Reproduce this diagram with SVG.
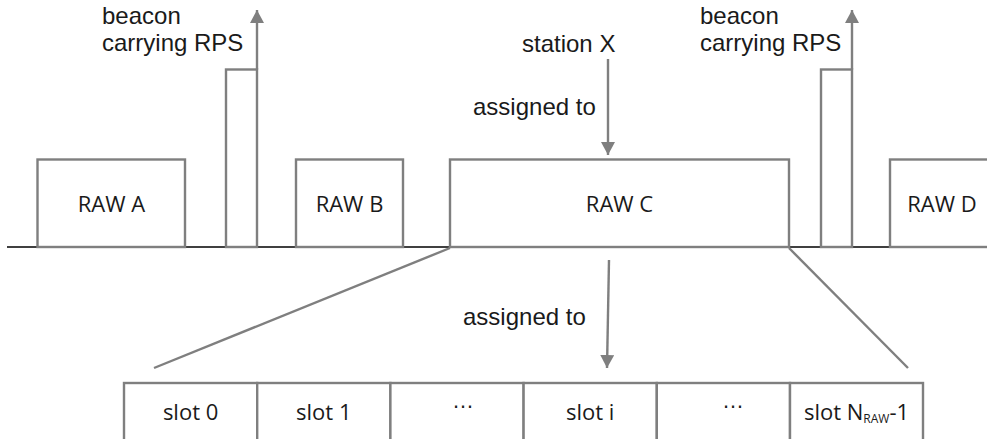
<svg xmlns="http://www.w3.org/2000/svg" width="987" height="439" viewBox="0 0 987 439">
<style>
.box{fill:#fff;stroke:#7f7f7f;stroke-width:2.4}
.conn{fill:none;stroke:#7f7f7f;stroke-width:2.4}
.lbl{font-family:"Liberation Sans",Arial,sans-serif;font-size:24px;fill:#1a1a1a}
.raw{font-family:"Open Sans","Noto Sans",sans-serif;font-size:22px;fill:#1a1a1a;text-anchor:middle}
.dots{font-family:"Liberation Sans",Arial,sans-serif;font-size:22px;fill:#1a1a1a;text-anchor:middle}
</style>
<defs>
<marker id="ah" markerUnits="userSpaceOnUse" markerWidth="14" markerHeight="14" viewBox="0 0 14 14" refX="13" refY="7" orient="auto">
<path d="M0,0 L13,7 L0,14 Z" fill="#7f7f7f"/>
</marker>
</defs>
<rect width="987" height="439" fill="#fff"/>
<line x1="7" y1="247" x2="987" y2="247" stroke="#000" stroke-width="1.5"/>

<g id="rawA"><rect class="box" x="37.5" y="159.5" width="147.5" height="87.5"/><text class="raw" x="111.5" y="212">RAW A</text></g>
<g id="beacon1"><rect class="box" x="226" y="69.5" width="31" height="177.5"/>
<text class="lbl" x="102" y="24">beacon</text><text class="lbl" x="102" y="51">carrying RPS</text></g>
<g id="rawB"><rect class="box" x="296" y="159.5" width="107" height="87.5"/><text class="raw" x="349.5" y="212">RAW B</text></g>
<g id="rawC"><rect class="box" x="450" y="159.5" width="339" height="87.5"/><text class="raw" x="619.5" y="212">RAW C</text></g>
<g id="beacon2"><rect class="box" x="821" y="69.5" width="31" height="177.5"/>
<text class="lbl" x="700" y="24">beacon</text><text class="lbl" x="700" y="51">carrying RPS</text></g>
<g id="rawD"><rect class="box" x="890" y="159.5" width="105" height="87.5"/><text class="raw" x="942" y="212">RAW D</text></g>
<g id="stationX"><text class="lbl" x="522" y="52">station X</text></g>
<g id="assign1"><text class="lbl" x="473" y="115">assigned to</text></g>
<g id="assign2"><text class="lbl" x="463" y="325">assigned to</text></g>

<g id="slots">
<g id="slot0"><rect class="box" x="124" y="383" width="133.2" height="70"/><text class="raw" x="190.6" y="420">slot 0</text></g>
<g id="slot1"><rect class="box" x="257.2" y="383" width="133.2" height="70"/><text class="raw" x="323.8" y="420">slot 1</text></g>
<g id="slotDots1"><rect class="box" x="390.4" y="383" width="133.2" height="70"/><text class="dots" x="463" y="408">…</text></g>
<g id="sloti"><rect class="box" x="523.6" y="383" width="133.2" height="70"/><text class="raw" x="590.2" y="420">slot i</text></g>
<g id="slotDots2"><rect class="box" x="656.8" y="383" width="133.2" height="70"/><text class="dots" x="733" y="408">…</text></g>
<g id="slotN"><rect class="box" x="790" y="383" width="133" height="70"/><text class="raw" x="856.5" y="420">slot N<tspan font-size="12" dy="3">RAW</tspan><tspan dy="-3">-1</tspan></text></g>
</g>

<g id="connectors">
<line class="conn" x1="257" y1="69.5" x2="257" y2="10" marker-end="url(#ah)"/>
<line class="conn" x1="852" y1="69.5" x2="852" y2="10" marker-end="url(#ah)"/>
<line class="conn" x1="608" y1="59" x2="608" y2="155" marker-end="url(#ah)"/>
<line class="conn" x1="609" y1="260" x2="607" y2="368" marker-end="url(#ah)"/>
<line class="conn" x1="450" y1="248" x2="154" y2="368"/>
<line class="conn" x1="789" y1="248" x2="908" y2="368"/>
</g>
</svg>
